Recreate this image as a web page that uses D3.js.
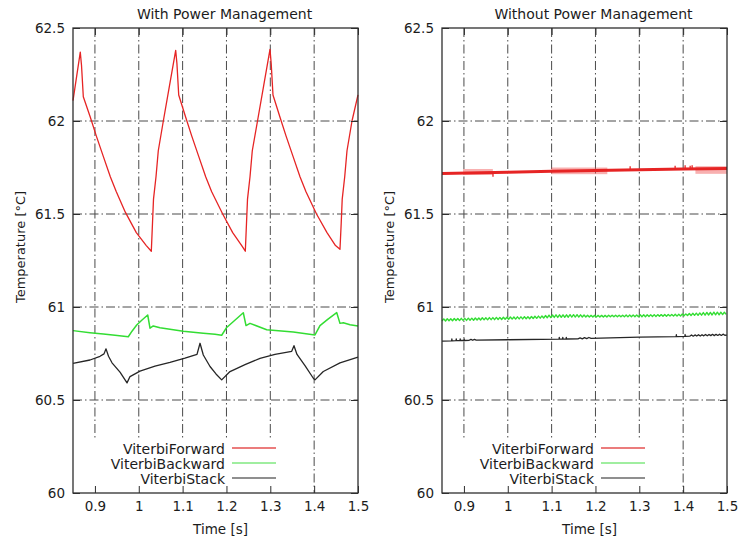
<!DOCTYPE html>
<html>
<head>
<meta charset="utf-8">
<script src="https://cdn.jsdelivr.net/npm/d3@7"></script>
<style>
  html, body { margin: 0; padding: 0; background: #fff; }
  svg text { font-family: "DejaVu Sans", "Liberation Sans", sans-serif; fill: #1c1c1c; }
</style>
</head>
<body>
<svg id="chart" width="739" height="544"></svg>
<script>
// ---- axes ----
const timeDomain = [0.85, 1.5];
const tempDomain = [60, 62.5];
const timeTicks = [0.9, 1.0, 1.1, 1.2, 1.3, 1.4, 1.5];
const timeTickLabels = ["0.9", "1", "1.1", "1.2", "1.3", "1.4", "1.5"];
const tempTicks = [60, 60.5, 61, 61.5, 62, 62.5];
const tempTickLabels = ["60", "60.5", "61", "61.5", "62", "62.5"];
const seriesNames = ["ViterbiForward", "ViterbiBackward", "ViterbiStack"];
const panelTitles = ["With Power Management", "Without Power Management"];
const xAxisTitle = "Time [s]";
const yAxisTitle = "Temperature [°C]";

// ---- with power management: [time s, temperature °C] ----
const pmForward = [
  [0.8500,62.11],[0.8666,62.37],[0.8694,62.30],[0.8735,62.13],[0.8895,62.02],[0.9031,61.92],
  [0.9191,61.81],[0.9351,61.70],[0.9488,61.62],[0.9693,61.51],[0.9944,61.40],[1.0172,61.33],[1.0286,61.30],
  [1.0313,61.45],[1.0336,61.58],[1.0393,61.70],[1.0445,61.84],[1.0560,62.00],[1.0701,62.19],[1.0842,62.38],
  [1.0870,62.31],[1.0911,62.14],[1.1070,62.02],[1.1207,61.92],[1.1367,61.81],[1.1526,61.70],[1.1663,61.62],
  [1.1914,61.50],[1.2142,61.40],[1.2348,61.33],[1.2430,61.30],
  [1.2457,61.45],[1.2480,61.58],[1.2537,61.70],[1.2589,61.84],[1.2708,62.00],[1.2849,62.19],[1.2993,62.385],
  [1.3020,62.31],[1.3061,62.14],[1.3221,62.02],[1.3358,61.92],[1.3518,61.81],[1.3677,61.70],[1.3814,61.62],
  [1.4054,61.50],[1.4293,61.40],[1.4487,61.33],[1.4589,61.31],
  [1.4617,61.45],[1.4640,61.58],[1.4697,61.70],[1.4749,61.84],[1.4863,62.00],[1.5000,62.14]
];
const pmBackward = [
  [0.8500,60.873],[0.8888,60.862],[0.9191,60.855],[0.9458,60.848],[0.9761,60.840],[0.9846,60.870],
  [0.9953,60.903],[1.0074,60.930],[1.0204,60.957],[1.0256,60.886],[1.0331,60.898],[1.0484,60.888],
  [1.0712,60.880],[1.1016,60.870],[1.1472,60.859],[1.1739,60.853],[1.1891,60.848],[1.2005,60.890],
  [1.2172,60.925],[1.2384,60.969],[1.2446,60.900],[1.2537,60.912],[1.2918,60.878],[1.3524,60.865],
  [1.4019,60.850],[1.4133,60.900],[1.4316,60.935],[1.4514,60.970],[1.4589,60.912],[1.4665,60.915],
  [1.4818,60.905],[1.5000,60.898]
];
const pmStack = [
  [0.8500,60.697],[0.8888,60.715],[0.9116,60.735],[0.9207,60.748],[0.9253,60.775],[0.9310,60.735],
  [0.9390,60.700],[0.9572,60.650],[0.9732,60.592],[0.9800,60.626],[1.0028,60.655],[1.0370,60.682],
  [1.0712,60.702],[1.1054,60.725],[1.1328,60.745],[1.1397,60.805],[1.1472,60.742],[1.1625,60.680],
  [1.1761,60.640],[1.1891,60.608],[1.2081,60.653],[1.2423,60.690],[1.2765,60.724],[1.3107,60.745],
  [1.3488,60.762],[1.3540,60.792],[1.3609,60.745],[1.3791,60.685],[1.3981,60.617],[1.4019,60.608],
  [1.4209,60.653],[1.4589,60.700],[1.5000,60.730]
];

// ---- without power management ----
const npForward = [
  [0.85,61.718],[1.0,61.725],[1.1,61.730],[1.2,61.734],[1.3,61.738],[1.4,61.742],[1.5,61.745]
];
// noisy stretches: [start s, end s, low °C, high °C]
const npForwardNoise = [
  [0.898, 0.966, 61.710, 61.742],
  [1.099, 1.227, 61.714, 61.750],
  [1.428, 1.500, 61.716, 61.757]
];
// isolated glitches: [time s, base °C, tip °C]
const npForwardSpikes = [
  [0.9663,61.724,61.700],[1.2791,61.736,61.757],[1.3817,61.740,61.760],
  [1.4045,61.741,61.762],[1.4160,61.741,61.760],[1.4205,61.741,61.762]
];
// sampled every npBackwardStep seconds from npBackwardStart
const npBackwardStart = 0.85;
const npBackwardStep = 0.004;
const npBackward = [
  60.925,60.936,60.925,60.937,60.926,60.937,60.926,60.938,60.927,60.938,
  60.927,60.939,60.928,60.939,60.928,60.940,60.929,60.940,60.929,60.941,
  60.930,60.941,60.930,60.942,60.931,60.942,60.931,60.943,60.932,60.943,
  60.932,60.944,60.933,60.944,60.933,60.945,60.934,60.945,60.934,60.946,
  60.935,60.946,60.935,60.947,60.936,60.947,60.936,60.948,60.937,60.948,
  60.937,60.949,60.938,60.950,60.939,60.951,60.940,60.952,60.941,60.954,
  60.942,60.956,60.943,60.957,60.944,60.958,60.944,60.958,60.945,60.958,
  60.945,60.958,60.945,60.959,60.946,60.959,60.946,60.959,60.946,60.958,
  60.946,60.957,60.946,60.956,60.946,60.955,60.946,60.955,60.946,60.955,
  60.946,60.955,60.946,60.955,60.946,60.956,60.947,60.956,60.947,60.956,
  60.947,60.956,60.947,60.956,60.947,60.957,60.947,60.957,60.948,60.957,
  60.948,60.957,60.948,60.958,60.948,60.958,60.948,60.958,60.949,60.958,
  60.949,60.959,60.949,60.959,60.950,60.959,60.950,60.960,60.950,60.960,
  60.951,60.960,60.951,60.961,60.951,60.961,60.952,60.962,60.953,60.963,
  60.954,60.965,60.954,60.966,60.955,60.967,60.955,60.968,60.956,60.970,
  60.956,60.971,60.957,60.971,60.957,60.972,60.958,60.972,60.958,60.972,
  60.959,60.972,60.960
];
const npStack = [
  [0.850,60.817],[0.872,60.818],[0.8725,60.828],[0.873,60.818],
  [0.882,60.819],[0.8825,60.829],[0.883,60.819],
  [0.891,60.819],[0.8915,60.829],[0.892,60.820],
  [0.900,60.820],[0.9005,60.829],[0.901,60.820],
  [0.912,60.821],[0.916,60.826],[0.920,60.821],[0.924,60.826],[0.928,60.822],
  [1.000,60.824],[1.117,60.827],[1.1175,60.837],[1.118,60.827],
  [1.125,60.827],[1.1255,60.837],[1.126,60.827],
  [1.133,60.828],[1.1335,60.837],[1.134,60.828],
  [1.160,60.829],[1.165,60.834],[1.170,60.829],[1.175,60.835],[1.180,60.830],[1.185,60.836],[1.190,60.831],
  [1.300,60.838],[1.384,60.841],[1.3845,60.851],[1.385,60.841],
  [1.404,60.842],[1.4045,60.852],[1.405,60.842],
  [1.415,60.843],[1.419,60.850],[1.423,60.843],[1.427,60.850],[1.431,60.844],[1.435,60.851],
  [1.439,60.844],[1.443,60.851],[1.447,60.845],[1.451,60.852],[1.455,60.845],[1.459,60.852],
  [1.463,60.846],[1.467,60.853],[1.471,60.846],[1.475,60.853],[1.479,60.847],[1.483,60.854],
  [1.487,60.847],[1.491,60.854],[1.495,60.848],[1.500,60.849]
];

// ---- styling ----
const lineColors = ["#e62424", "#33dd33", "#262626"];
const keyColors = ["#e45050", "#80e880", "#6a6a6a"];
const gridColor = "#4a4a4a";
const frameColor = "#2e2e2e";
const gridDash = "9,3,1.5,3";

const svg = d3.select("#chart");
const plotTop = 28, plotBottom = 493;
const panelLefts = [73, 442];
const panelWidth = 285;

const npBackwardPoints = npBackward.map((v, i) => [npBackwardStart + i * npBackwardStep, v]);

const panels = [
  { title: panelTitles[0], left: panelLefts[0],
    series: [
      { data: pmForward, color: lineColors[0], width: 1.3 },
      { data: pmBackward, color: lineColors[1], width: 1.5 },
      { data: pmStack, color: lineColors[2], width: 1.3 }
    ] },
  { title: panelTitles[1], left: panelLefts[1],
    series: [
      { data: npForward, color: lineColors[0], width: 3 },
      { data: npBackwardPoints, color: lineColors[1], width: 1.4 },
      { data: npStack, color: lineColors[2], width: 1.3 }
    ],
    noise: npForwardNoise, spikes: npForwardSpikes }
];

panels.forEach(p => {
  const x = d3.scaleLinear().domain(timeDomain).range([p.left, p.left + panelWidth]);
  const y = d3.scaleLinear().domain(tempDomain).range([plotBottom, plotTop]);
  const g = svg.append("g");

  // grid
  g.append("g").selectAll("line")
    .data(timeTicks.filter(t => t > timeDomain[0] && t < timeDomain[1]))
    .join("line")
    .attr("x1", d => x(d)).attr("x2", d => x(d))
    .attr("y1", plotTop).attr("y2", plotBottom)
    .attr("stroke", gridColor).attr("stroke-width", 1)
    .attr("stroke-dasharray", gridDash);
  g.append("g").selectAll("line")
    .data(tempTicks.filter(t => t > tempDomain[0] && t < tempDomain[1]))
    .join("line")
    .attr("x1", x(timeDomain[0])).attr("x2", x(timeDomain[1]))
    .attr("y1", d => y(d)).attr("y2", d => y(d))
    .attr("stroke", gridColor).attr("stroke-width", 1)
    .attr("stroke-dasharray", gridDash);

  // noisy envelope
  if (p.noise) {
    g.append("g").selectAll("rect")
      .data(p.noise)
      .join("rect")
      .attr("x", d => x(d[0])).attr("width", d => x(d[1]) - x(d[0]))
      .attr("y", d => y(d[3])).attr("height", d => y(d[2]) - y(d[3]))
      .attr("fill", "#f05050").attr("opacity", 0.45);
  }

  const line = d3.line().x(d => x(d[0])).y(d => y(d[1]));
  p.series.forEach(s => {
    g.append("path")
      .datum(s.data)
      .attr("d", line)
      .attr("fill", "none")
      .attr("stroke", s.color)
      .attr("stroke-width", s.width)
      .attr("stroke-linejoin", "round");
  });

  if (p.spikes) {
    g.append("g").selectAll("line")
      .data(p.spikes)
      .join("line")
      .attr("x1", d => x(d[0])).attr("x2", d => x(d[0]))
      .attr("y1", d => y(d[1])).attr("y2", d => y(d[2]))
      .attr("stroke", lineColors[0]).attr("stroke-width", 1.3);
  }

  // key
  const keyTextX = p.left + 152;
  const keyLineX1 = p.left + 159, keyLineX2 = p.left + 203;
  const keyRows = [454, 469, 484];
  g.append("rect")
    .attr("x", p.left + 16).attr("y", 438)
    .attr("width", 194).attr("height", plotBottom - 438)
    .attr("fill", "#fff");
  seriesNames.forEach((name, i) => {
    g.append("text")
      .attr("x", keyTextX).attr("y", keyRows[i])
      .attr("text-anchor", "end")
      .attr("font-size", 14)
      .text(name);
    g.append("line")
      .attr("x1", keyLineX1).attr("x2", keyLineX2)
      .attr("y1", keyRows[i] - 6).attr("y2", keyRows[i] - 6)
      .attr("stroke", keyColors[i]).attr("stroke-width", 1.6);
  });

  // axes with inward ticks
  const bottom = d3.axisBottom(x).tickValues(timeTicks)
    .tickFormat((d, i) => timeTickLabels[i]).tickSizeInner(-7).tickSizeOuter(0).tickPadding(8.5);
  const top = d3.axisTop(x).tickValues(timeTicks)
    .tickFormat("").tickSizeInner(-7).tickSizeOuter(0);
  const left = d3.axisLeft(y).tickValues(tempTicks)
    .tickFormat((d, i) => tempTickLabels[i]).tickSizeInner(-7).tickSizeOuter(0).tickPadding(8);
  const right = d3.axisRight(y).tickValues(tempTicks)
    .tickFormat("").tickSizeInner(-7).tickSizeOuter(0);

  const styleAxis = sel => {
    sel.select(".domain").remove();
    sel.selectAll(".tick line").attr("stroke", frameColor).attr("stroke-width", 1);
    sel.selectAll(".tick text").attr("font-size", 13.5).attr("fill", "#1c1c1c")
      .attr("font-family", "DejaVu Sans, sans-serif");
  };
  g.append("g").attr("transform", `translate(0,${plotBottom})`).call(bottom).call(styleAxis);
  g.append("g").attr("transform", `translate(0,${plotTop})`).call(top).call(styleAxis);
  g.append("g").attr("transform", `translate(${p.left},0)`).call(left).call(styleAxis);
  g.append("g").attr("transform", `translate(${p.left + panelWidth},0)`).call(right).call(styleAxis);

  // frame
  g.append("rect")
    .attr("x", p.left).attr("y", plotTop)
    .attr("width", panelWidth).attr("height", plotBottom - plotTop)
    .attr("fill", "none").attr("stroke", frameColor).attr("stroke-width", 1.3);

  // titles
  g.append("text")
    .attr("x", p.left + panelWidth / 2 + 9).attr("y", 19)
    .attr("text-anchor", "middle").attr("font-size", 14)
    .text(p.title);
  g.append("text")
    .attr("x", p.left + panelWidth / 2 + 5).attr("y", 534)
    .attr("text-anchor", "middle").attr("font-size", 13.5)
    .text(xAxisTitle);
  g.append("text")
    .attr("transform", `translate(${p.left - 48},247) rotate(-90)`)
    .attr("text-anchor", "middle").attr("font-size", 13)
    .text(yAxisTitle);
});
</script>
</body>
</html>
